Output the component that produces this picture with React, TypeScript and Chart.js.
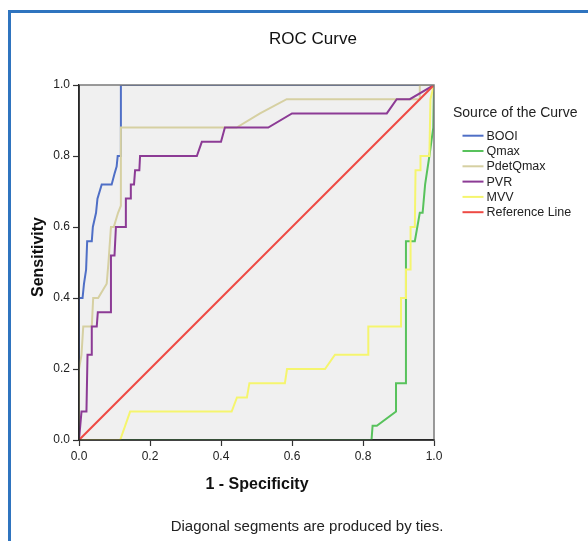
import React, { useEffect, useRef } from "react";
import { Chart, registerables } from "chart.js";

Chart.register(...registerables);

const FONT = 'Arial, "Liberation Sans", sans-serif';

const chartTitle = "ROC Curve";
const xAxisTitle = "1 - Specificity";
const yAxisTitle = "Sensitivity";
const legendTitle = "Source of the Curve";
const footnote = "Diagonal segments are produced by ties.";

const seriesNames = ["BOOI", "Qmax", "PdetQmax", "PVR", "MVV", "Reference Line"];
const seriesColors = ["#4f6fc6", "#58c25c", "#d6d0a2", "#8c3b95", "#f5f56e", "#ee4a44"];

const tickValues = [0, 0.2, 0.4, 0.6, 0.8, 1.0];

const booiX = [0, 0, 0.01, 0.014, 0.02, 0.023, 0.036, 0.039, 0.048, 0.052, 0.064, 0.092, 0.1, 0.106, 0.109, 0.118, 0.118, 1];
const booiY = [0, 0.4, 0.4, 0.44, 0.48, 0.56, 0.56, 0.6, 0.64, 0.68, 0.72, 0.72, 0.75, 0.77, 0.8, 0.8, 1, 1];

const qmaxX = [0, 0.824, 0.827, 0.839, 0.893, 0.893, 0.921, 0.921, 0.946, 0.96, 0.968, 0.975, 0.987, 0.998, 1];
const qmaxY = [0, 0, 0.04, 0.04, 0.08, 0.16, 0.16, 0.56, 0.56, 0.64, 0.64, 0.72, 0.8, 0.88, 1];

const pdetX = [0, 0, 0.007, 0.012, 0.036, 0.04, 0.054, 0.078, 0.083, 0.09, 0.098, 0.11, 0.118, 0.118, 0.444, 0.51, 0.585, 0.96, 0.96, 1];
const pdetY = [0, 0.2, 0.24, 0.32, 0.32, 0.4, 0.4, 0.44, 0.5, 0.6, 0.6, 0.64, 0.66, 0.88, 0.88, 0.92, 0.96, 0.96, 1, 1];

const pvrX = [0, 0.007, 0.021, 0.024, 0.034, 0.036, 0.05, 0.053, 0.09, 0.09, 0.1, 0.104, 0.13, 0.132, 0.144, 0.146, 0.155, 0.158, 0.17, 0.172, 0.332, 0.346, 0.4, 0.411, 0.533, 0.6, 0.867, 0.895, 0.932, 1];
const pvrY = [0, 0.08, 0.08, 0.24, 0.24, 0.32, 0.32, 0.36, 0.36, 0.52, 0.52, 0.6, 0.6, 0.68, 0.68, 0.72, 0.72, 0.76, 0.76, 0.8, 0.8, 0.84, 0.84, 0.88, 0.88, 0.92, 0.92, 0.96, 0.96, 1];

const mvvX = [0, 0.116, 0.144, 0.43, 0.445, 0.473, 0.48, 0.58, 0.586, 0.693, 0.721, 0.815, 0.815, 0.907, 0.907, 0.921, 0.921, 0.934, 0.934, 0.946, 0.948, 0.962, 0.962, 0.987, 0.99, 1];
const mvvY = [0, 0, 0.08, 0.08, 0.12, 0.12, 0.16, 0.16, 0.2, 0.2, 0.24, 0.24, 0.32, 0.32, 0.4, 0.4, 0.48, 0.48, 0.6, 0.6, 0.76, 0.76, 0.8, 0.8, 0.96, 1];

const refX = [0, 1];
const refY = [0, 1];

const seriesX = [booiX, qmaxX, pdetX, pvrX, mvvX, refX];
const seriesY = [booiY, qmaxY, pdetY, pvrY, mvvY, refY];

const decorPlugin = {
  id: "decor",
  beforeDraw(chart: any) {
    const { ctx, chartArea: a } = chart;
    ctx.save();
    ctx.fillStyle = "#f0f0f0";
    ctx.fillRect(a.left, a.top, a.right - a.left, a.bottom - a.top);
    ctx.restore();
  },
  afterDraw(chart: any) {
    const { ctx, chartArea: a } = chart;
    ctx.save();
    // top & right frame of plot
    ctx.strokeStyle = "#7a7a7a";
    ctx.lineWidth = 1.5;
    ctx.beginPath();
    ctx.moveTo(a.left, a.top);
    ctx.lineTo(a.right, a.top);
    ctx.lineTo(a.right, a.bottom);
    ctx.stroke();
    // axis lines on top of the curves
    ctx.strokeStyle = "#2a2a2a";
    ctx.beginPath();
    ctx.moveTo(a.left, a.top);
    ctx.lineTo(a.left, a.bottom);
    ctx.lineTo(a.right, a.bottom);
    ctx.stroke();

    ctx.fillStyle = "#111";
    ctx.textAlign = "center";
    ctx.textBaseline = "alphabetic";
    ctx.font = `17px ${FONT}`;
    ctx.fillText(chartTitle, 313, 43.5);

    ctx.font = `bold 16px ${FONT}`;
    ctx.fillText(xAxisTitle, 257, 489);

    ctx.save();
    ctx.translate(43, 257);
    ctx.rotate(-Math.PI / 2);
    ctx.fillText(yAxisTitle, 0, 0);
    ctx.restore();

    ctx.font = `15px ${FONT}`;
    ctx.fillStyle = "#222";
    ctx.fillText(footnote, 307, 531);

    // legend
    ctx.textAlign = "left";
    ctx.font = `14px ${FONT}`;
    ctx.fillText(legendTitle, 453, 117);
    ctx.font = `12.5px ${FONT}`;
    ctx.textBaseline = "middle";
    seriesNames.forEach((name, i) => {
      const y = 135.7 + i * 15.3;
      ctx.strokeStyle = seriesColors[i];
      ctx.lineWidth = 2;
      ctx.beginPath();
      ctx.moveTo(462.5, y);
      ctx.lineTo(483.5, y);
      ctx.stroke();
      ctx.fillStyle = "#222";
      ctx.fillText(name, 486.5, y + 0.5);
    });
    ctx.restore();
  },
};

export default function App() {
  const ref = useRef<HTMLCanvasElement>(null);
  useEffect(() => {
    const canvas = ref.current;
    if (!canvas) return;
    const n = seriesNames.length;
    const datasets = seriesNames.map((name, i) => ({
      label: name,
      data: seriesX[i].map((x, j) => ({ x, y: seriesY[i][j] })),
      borderColor: seriesColors[i],
      backgroundColor: seriesColors[i],
      borderWidth: 2,
      pointRadius: 0,
      showLine: true,
      fill: false,
      tension: 0,
      order: n - i,
    }));
    const axisCommon = {
      type: "linear" as const,
      min: 0,
      max: 1,
      afterBuildTicks: (scale: any) => {
        scale.ticks = tickValues.map((v) => ({ value: v }));
      },
      ticks: {
        color: "#222",
        font: { family: FONT, size: 12 },
        callback: (v: any) => Number(v).toFixed(1),
      },
      grid: {
        display: true,
        drawOnChartArea: false,
        drawTicks: true,
        tickLength: 6,
        tickWidth: 1.2,
        tickColor: "#333",
        color: "#333",
      },
      border: { display: true, color: "#222", width: 1.5 },
    };
    const chart = new Chart(canvas, {
      type: "scatter",
      data: { datasets },
      options: {
        animation: false,
        responsive: false,
        devicePixelRatio: 1,
        layout: { padding: { left: 39, top: 85, right: 154, bottom: 71 } },
        plugins: {
          legend: { display: false },
          title: { display: false },
          tooltip: { enabled: false },
        },
        scales: {
          x: {
            ...axisCommon,
            position: "bottom",
            ticks: { ...axisCommon.ticks, padding: 3, maxRotation: 0 },
            afterFit: (scale: any) => {
              scale.height = 30;
            },
          },
          y: {
            ...axisCommon,
            position: "left",
            ticks: { ...axisCommon.ticks, padding: 3 },
            afterFit: (scale: any) => {
              scale.width = 40;
            },
          },
        },
      } as any,
      plugins: [decorPlugin],
    });
    return () => chart.destroy();
  }, []);

  return (
    <div style={{ position: "fixed", left: 0, top: 0, width: 588, height: 541, background: "#fff", overflow: "hidden" }}>
      <div
        style={{
          position: "absolute",
          left: 8,
          top: 10,
          width: 620,
          height: 600,
          borderLeft: "3px solid #2f74bf",
          borderTop: "3px solid #2f74bf",
          background: "#fff",
        }}
      />
      <canvas ref={ref} width={588} height={541} style={{ position: "absolute", left: 0, top: 0 }} />
    </div>
  );
}
